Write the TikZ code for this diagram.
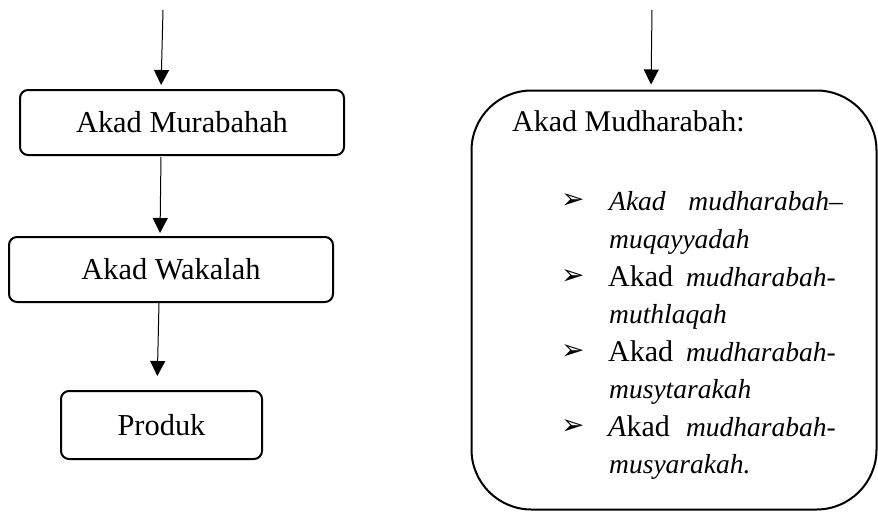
\documentclass[tikz,border=0pt]{standalone}
\usepackage{fontspec}
\setmainfont{Liberation Serif}
\newfontfamily\bulfont{DejaVu Sans}
\usetikzlibrary{arrows.meta}
\begin{document}
\begin{tikzpicture}[x=1pt,y=-1pt,
  box/.style={draw,line width=2pt,rounded corners=8pt,inner sep=0pt,font=\fontsize{30.4}{34}\selectfont},
  bigbox/.style={draw,line width=2pt,rounded corners=60pt,inner sep=0pt},
  arr/.style={line width=1pt,-{Triangle[length=15pt,width=15pt]}},
  txt/.style={anchor=base west,inner sep=0pt,font=\fontsize{30}{34}\selectfont},
  ittxt/.style={anchor=base west,inner sep=0pt,font=\fontsize{27.5}{30}\selectfont\itshape},
  itend/.style={ittxt,anchor=base east},
  bul/.style={anchor=base west,inner sep=0pt,font=\bulfont\fontsize{28}{30}\selectfont}]
\useasboundingbox (0,0) rectangle (878,512);
% left column
\node[box,minimum width=324pt,minimum height=65pt] (murabahah) at (182,122.5) {Akad Murabahah};
\node[box,minimum width=324pt,minimum height=65pt] (wakalah) at (171,269.5) {Akad Wakalah};
\node[box,minimum width=201pt,minimum height=68pt] (produk) at (161.5,425) {Produk};
\coordinate (topL) at (163,10);
\draw[arr,shorten >=4pt] (topL) -- ([xshift=-21pt]murabahah.north);
\draw[arr,shorten >=3pt,shorten <=1pt] ([xshift=-21pt]murabahah.south) -- ([xshift=-11pt]wakalah.north);
\draw[arr,shorten >=14pt] ([xshift=-12pt]wakalah.south) -- ([xshift=-4.5pt]produk.north);
% right column
\node[bigbox,minimum width=405pt,minimum height=419pt] (mudharabah) at (674,300) {};
\coordinate (topR) at (652,10);
\draw[arr,shorten >=5pt] (topR) -- ([xshift=-23pt]mudharabah.north);
\node[txt] (title) at (512,131) {Akad Mudharabah:};
\node[bul] (b1) at (561,208) {➢};
\node[ittxt] (l1a) at (609,210) {Akad};
\node[itend] (l1b) at (843,210) {mudharabah–};
\node[ittxt] (l2) at (609,248) {muqayyadah};
\node[bul] (b2) at (561,284) {➢};
\node[txt] (l3a) at (608,286) {Akad};
\node[itend] (l3b) at (836,286) {mudharabah-};
\node[ittxt] (l4) at (609,323) {muthlaqah};
\node[bul] (b3) at (561,359) {➢};
\node[txt] (l5a) at (608,361) {Akad};
\node[itend] (l5b) at (836,361) {mudharabah-};
\node[ittxt] (l6) at (609,398) {musytarakah};
\node[bul] (b4) at (561,434) {➢};
\node[txt] (l7a) at (608,436) {\textit{A}kad};
\node[itend] (l7b) at (836,436) {mudharabah-};
\node[ittxt] (l8) at (609,473) {musyarakah.};
\end{tikzpicture}
\end{document}
